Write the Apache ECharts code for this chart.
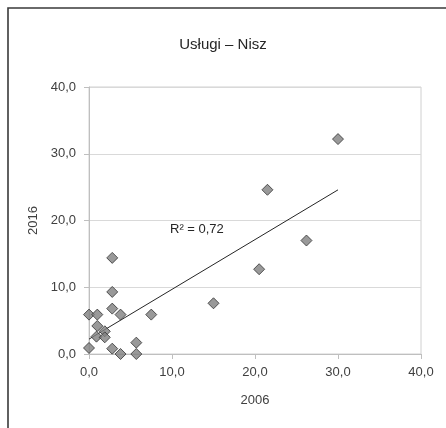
<!DOCTYPE html>
<html>
<head>
<meta charset="utf-8">
<script src="https://cdn.jsdelivr.net/npm/echarts@6/dist/echarts.min.js"></script>
<style>
html,body{margin:0;padding:0;background:#fff;}
#chart{width:446px;height:428px;}
</style>
</head>
<body>
<div id="chart"></div>
<script>
var titleText = 'Usługi – Nisz';
var xName = '2006';
var yName = '2016';
var r2Text = 'R² = 0,72';
var x2006 = [0.0, 1.0, 2.8, 3.8, 7.5, 1.0, 1.9, 0.9, 1.9, 0.0, 2.8, 3.8, 5.7, 5.7, 2.8, 2.8, 15.0, 20.5, 21.5, 26.2, 30.0];
var y2016 = [5.9, 5.9, 6.8, 5.9, 5.9, 4.2, 3.4, 2.6, 2.5, 0.9, 0.8, 0.0, 1.7, 0.0, 14.4, 9.3, 7.6, 12.7, 24.6, 17.0, 32.2];
var axisMin = 0, axisMax = 40, axisStep = 10;

var points = x2006.map(function(x, i){ return [x, y2016[i]]; });
// least-squares trend line
var n = x2006.length, sx = 0, sy = 0, sxx = 0, sxy = 0;
for (var i = 0; i < n; i++) { sx += x2006[i]; sy += y2016[i]; sxx += x2006[i]*x2006[i]; sxy += x2006[i]*y2016[i]; }
var b = (n*sxy - sx*sy) / (n*sxx - sx*sx);
var a = (sy - b*sx) / n;
var xMin = Math.min.apply(null, x2006), xMax = Math.max.apply(null, x2006);
var trend = [[xMin, a + b*xMin], [xMax, a + b*xMax]];

var fmt = function(v){ return v.toFixed(1).replace('.', ','); };
var font = 'Liberation Sans';
var chart = echarts.init(document.getElementById('chart'));
chart.setOption({
  animation: false,
  backgroundColor: '#fff',
  textStyle: { fontFamily: font },
  title: {
    text: titleText, left: 'center', top: 32,
    textStyle: { fontFamily: font, fontSize: 15, fontWeight: 'normal', color: '#262626' }
  },
  graphic: [
    { type: 'rect', shape: { x: 8, y: 8, width: 600, height: 600 },
      style: { fill: 'none', stroke: '#3a3a3a', lineWidth: 1.6 }, silent: true, z: 100 },
    { type: 'text', left: 170, top: 223,
      style: { text: r2Text, font: '13px "Liberation Sans"', fill: '#262626' }, z: 50 }
  ],
  grid: { left: 89, right: 25, top: 87, bottom: 74, show: true, borderColor: '#d0d0d0', borderWidth: 1 },
  xAxis: {
    type: 'value', min: axisMin, max: axisMax, interval: axisStep,
    name: xName, nameLocation: 'middle', nameGap: 40,
    nameTextStyle: { fontSize: 13, color: '#404040', fontFamily: font },
    axisLine: { show: true, lineStyle: { color: '#bfbfbf' } },
    axisTick: { show: true, length: 5, lineStyle: { color: '#bfbfbf' } },
    axisLabel: { formatter: fmt, fontSize: 13, color: '#404040', margin: 12 },
    splitLine: { show: false }
  },
  yAxis: {
    type: 'value', min: axisMin, max: axisMax, interval: axisStep,
    name: yName, nameLocation: 'middle', nameGap: 43,
    nameTextStyle: { fontSize: 13, color: '#404040', fontFamily: font },
    axisLine: { show: true, lineStyle: { color: '#bfbfbf' } },
    axisTick: { show: true, length: 5, lineStyle: { color: '#bfbfbf' } },
    axisLabel: { formatter: fmt, fontSize: 13, color: '#404040', margin: 13 },
    splitLine: { show: true, lineStyle: { color: '#d9d9d9' } }
  },
  series: [
    {
      type: 'line', data: trend, symbol: 'none', z: 3,
      lineStyle: { color: '#262626', width: 1 }
    },
    {
      type: 'scatter', data: points, symbol: 'diamond', symbolSize: [11, 11], z: 4, clip: false,
      itemStyle: { color: '#808080', borderColor: '#333333', borderWidth: 1 }
    }
  ]
});
</script>
</body>
</html>
